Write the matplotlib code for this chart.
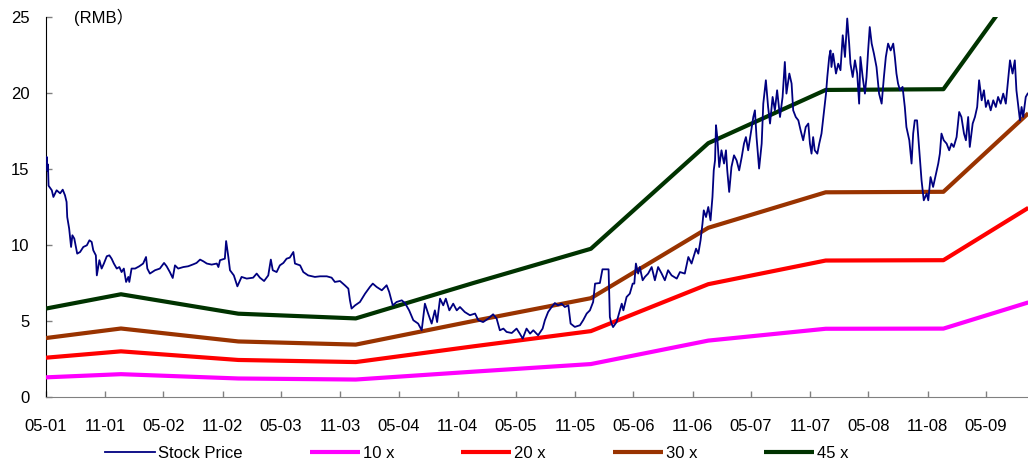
import matplotlib
matplotlib.use("Agg")
import matplotlib.pyplot as plt
import matplotlib.dates as mdates
import numpy as np
import pandas as pd

# ---------------- data ----------------
start_date = "2001-05-01"
end_date = "2009-09-09"

# stock price: days since start_date, price (RMB)
price_day = [0, 2, 4, 6, 8, 18, 23, 33, 44, 52, 59, 64, 66, 72, 78, 82, 88, 97, 106, 116,
             127, 135, 142, 147, 155, 158, 166, 173, 180, 189, 197, 204, 211, 220, 228, 235, 242, 249, 256, 259,
             266, 277, 290, 302, 311, 315, 323, 339, 354, 367, 375, 385, 394, 401, 411, 427, 442, 458, 468, 479,
             489, 500, 515, 531, 536, 541, 556, 560, 567, 572, 584, 595, 608, 624, 644, 655, 665, 678, 691, 699,
             705, 717, 727, 738, 748, 758, 769, 774, 790, 800, 815, 836, 852, 873, 888, 898, 914, 929, 940, 945,
             950, 961, 976, 992, 1007, 1016, 1028, 1044, 1059, 1067, 1078, 1090, 1106, 1116, 1129, 1142, 1157, 1168, 1178, 1188,
             1199, 1209, 1216, 1225, 1235, 1243, 1254, 1266, 1277, 1287, 1302, 1318, 1334, 1344, 1359, 1375, 1390, 1401, 1411, 1422,
             1432, 1448, 1463, 1473, 1482, 1494, 1505, 1515, 1530, 1544, 1551, 1561, 1572, 1582, 1592, 1603, 1613, 1624, 1631, 1644,
             1660, 1670, 1681, 1691, 1701, 1707, 1722, 1730, 1749, 1753, 1758, 1763, 1774, 1784, 1790, 1795, 1805, 1815, 1824, 1829,
             1834, 1841, 1846, 1855, 1862, 1872, 1883, 1893, 1903, 1914, 1924, 1934, 1945, 1961, 1971, 1986, 1997, 2007, 2021, 2028,
             2035, 2041, 2045, 2052, 2059, 2066, 2072, 2076, 2080, 2083, 2087, 2093, 2100, 2108, 2114, 2118, 2124, 2131, 2139, 2147,
             2155, 2163, 2170, 2176, 2183, 2191, 2199, 2204, 2209, 2214, 2217, 2225, 2230, 2238, 2245, 2251, 2259, 2266, 2273, 2282,
             2290, 2297, 2302, 2311, 2318, 2323, 2331, 2339, 2346, 2354, 2362, 2370, 2375, 2380, 2385, 2390, 2398, 2404, 2411, 2418,
             2425, 2429, 2435, 2439, 2442, 2447, 2456, 2463, 2470, 2477, 2484, 2491, 2497, 2501, 2508, 2515, 2522, 2528, 2532, 2539,
             2546, 2551, 2556, 2561, 2567, 2574, 2582, 2590, 2598, 2605, 2611, 2618, 2626, 2634, 2639, 2644, 2649, 2655, 2663, 2670,
             2675, 2684, 2691, 2696, 2701, 2708, 2715, 2722, 2729, 2738, 2743, 2750, 2758, 2767, 2774, 2779, 2784, 2791, 2800, 2808,
             2815, 2822, 2831, 2839, 2846, 2854, 2860, 2867, 2872, 2881, 2888, 2895, 2901, 2909, 2916, 2922, 2929, 2937, 2945, 2953,
             2960, 2968, 2976, 2984, 2991, 2997, 3005, 3012, 3017, 3022, 3028, 3033, 3038, 3046, 3052]
price_val = [15.2, 15.8, 14.9, 15.3, 13.9, 13.6, 13.16, 13.6, 13.4, 13.64, 13.27, 12.83, 11.84, 11.08, 9.87, 10.64, 10.42, 9.43, 9.54, 9.87,
             9.98, 10.31, 10.2, 9.65, 9.32, 8.0, 9.0, 8.45, 8.78, 9.26, 9.32, 9.1, 8.78, 8.45, 8.55, 8.22, 8.45, 7.57, 7.9, 7.57,
             8.45, 8.45, 8.6, 8.78, 9.21, 8.45, 8.12, 8.34, 8.45, 8.82, 8.6, 8.22, 7.83, 8.66, 8.45, 8.55, 8.6, 8.73, 8.82, 9.04,
             8.93, 8.78, 8.71, 8.78, 8.55, 9.0, 9.1, 10.26, 9.2, 8.34, 8.0, 7.28, 7.9, 7.79, 7.85, 8.12, 7.85, 7.63, 8.0, 9.04,
             8.34, 8.22, 8.66, 8.82, 9.1, 9.17, 9.54, 8.78, 8.66, 8.22, 8.0, 7.9, 7.94, 7.94, 7.85, 7.57, 7.63, 7.35, 7.13, 6.36,
             5.82, 6.03, 6.25, 6.8, 7.24, 7.46, 7.24, 7.02, 7.35, 6.91, 6.03, 6.25, 6.36, 6.18, 5.7, 5.05, 4.83, 4.39, 6.14, 5.49,
             4.83, 5.7, 4.93, 6.47, 6.03, 6.47, 5.7, 6.14, 5.7, 5.92, 5.59, 5.38, 5.49, 5.05, 4.93, 5.16, 5.44, 5.16, 4.39, 4.5,
             4.28, 4.21, 4.5, 4.17, 3.84, 4.5, 4.17, 4.39, 4.06, 4.5, 5.05, 5.59, 5.92, 6.18, 6.03, 6.14, 5.92, 6.03, 4.83, 4.61,
             4.72, 5.05, 5.49, 5.7, 6.25, 7.46, 7.5, 8.4, 8.4, 5.26, 4.83, 4.6, 4.93, 5.7, 6.14, 5.7, 6.58, 6.8, 7.46, 7.46,
             8.78, 8.12, 8.55, 7.68, 7.9, 8.12, 8.55, 7.68, 8.55, 8.12, 7.68, 8.34, 8.0, 7.79, 8.22, 8.12, 9.21, 8.78, 9.76, 9.43,
             10.31, 11.41, 12.28, 11.84, 12.5, 11.62, 13.16, 14.91, 15.57, 17.88, 17.1, 15.13, 16.23, 15.36, 16.23, 14.91, 13.49, 15.13, 15.9, 15.57,
             14.91, 15.79, 16.67, 17.1, 16.23, 17.33, 18.42, 18.86, 17.1, 15.79, 15.03, 16.67, 19.3, 20.84, 19.08, 17.99, 19.74, 18.86, 20.18, 18.42,
             19.74, 22.04, 19.96, 21.28, 20.62, 18.86, 18.42, 18.2, 17.55, 16.89, 17.76, 17.99, 16.67, 16.01, 17.1, 16.23, 16.01, 16.67, 17.33, 18.64,
             19.96, 21.05, 22.37, 22.8, 21.71, 22.59, 21.28, 21.93, 21.5, 23.8, 22.37, 24.9, 23.25, 21.93, 21.05, 22.15, 21.28, 19.3, 22.37, 21.05,
             19.96, 21.05, 22.8, 24.34, 23.25, 22.59, 21.71, 19.96, 19.3, 21.05, 22.37, 23.25, 22.8, 23.25, 22.37, 21.28, 20.62, 20.18, 20.4, 19.08,
             17.76, 16.89, 15.36, 17.33, 18.2, 18.2, 16.23, 14.26, 12.94, 13.38, 12.94, 14.47, 13.82, 14.7, 15.36, 16.01, 17.33, 16.89, 16.67, 16.23,
             16.67, 16.45, 17.1, 18.75, 18.42, 17.33, 16.89, 18.42, 16.45, 17.99, 18.42, 19.08, 20.84, 19.52, 20.18, 19.08, 19.52, 18.86, 19.52, 19.08,
             19.74, 19.3, 19.96, 19.3, 20.84, 22.15, 21.28, 22.15, 20.18, 19.3, 18.2, 19.08, 18.42, 19.74, 19.96]

# EPS path used for the PE bands (RMB per share)
eps_dates = ["2001-05-01", "2001-12-20", "2002-12-20", "2003-12-20", "2004-12-20",
             "2005-12-20", "2006-12-20", "2007-12-20", "2008-12-20", "2009-09-10"]
eps_vals = [0.1293, 0.1502, 0.1218, 0.1149, 0.1667, 0.2167, 0.3711, 0.4489, 0.4500, 0.6222]

pe_multiples = [10, 20, 30, 45]
pe_labels = ["10 x", "20 x", "30 x", "45 x"]
pe_colors = ["#FF00FF", "#FF0000", "#993300", "#003300"]

tick_dates = pd.date_range("2001-05-01", "2009-05-01", freq="6MS")
yticks = [0, 5, 10, 15, 20, 25]

# ---------------- plot ----------------
plt.rcParams["font.family"] = ["Liberation Sans", "Noto Sans CJK SC", "DejaVu Sans"]

fig = plt.figure(figsize=(10.28, 4.67), dpi=100)
ax = fig.add_axes([46 / 1028, 1 - 397 / 467, 982 / 1028, 380 / 467])

t0 = pd.Timestamp(start_date)
pdates = t0 + pd.to_timedelta(price_day, unit="D")
edates = pd.to_datetime(eps_dates)
eps = np.array(eps_vals)

handles = []
h, = ax.plot(pdates, price_val, color="#000080", lw=1.3, zorder=5, label="Stock Price")
handles.append(h)
for m, lab, c in zip(pe_multiples, pe_labels, pe_colors):
    h, = ax.plot(edates, eps * m, color=c, lw=3.0, zorder=3, label=lab,
                 solid_capstyle="butt")
    handles.append(h)

ax.set_xlim(t0, pd.Timestamp(end_date))
ax.set_ylim(0, 25)
ax.set_xticks(tick_dates)
ax.xaxis.set_major_formatter(mdates.DateFormatter("%m-%y"))
ax.set_yticks(yticks)

for s in ["top", "right"]:
    ax.spines[s].set_visible(False)
ax.spines["left"].set_color("black")
ax.spines["bottom"].set_color("#808080")
ax.tick_params(axis="both", direction="in", length=4.5, width=1, colors="#808080",
               labelcolor="black", labelsize=12)
ax.tick_params(axis="y", pad=12)
ax.tick_params(axis="x", pad=16)

ax.text(28 / 982, 1.0, "(RMB）", transform=ax.transAxes, fontsize=12,
        va="center", ha="left")

fig.legend(handles=handles, loc="center left", bbox_to_anchor=(105 / 1028, 1 - 453 / 467),
           ncol=5, frameon=False, fontsize=12, handlelength=3.0, handletextpad=0.2,
           columnspacing=4.0, borderpad=0, borderaxespad=0)

fig.savefig("out.png", dpi=100)
